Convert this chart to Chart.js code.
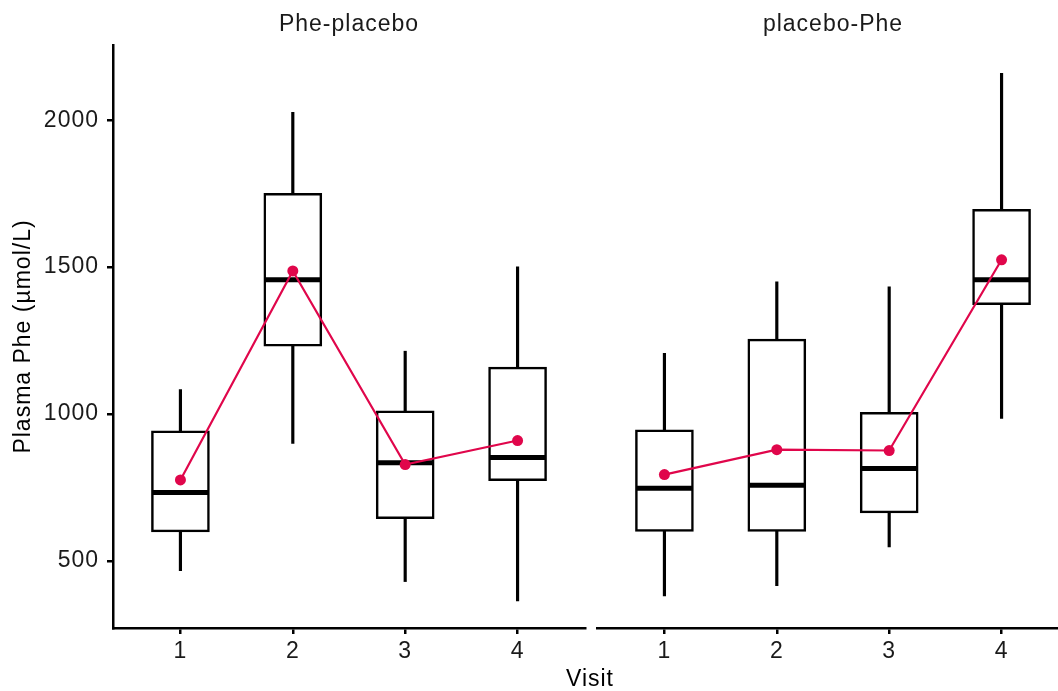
<!DOCTYPE html>
<html>
<head>
<meta charset="utf-8">
<script src="https://cdn.jsdelivr.net/npm/chart.js@4"></script>
<style>
  html, body { margin: 0; padding: 0; background: #fff; overflow: hidden; width: 1058px; height: 691px; }
  #left { position: absolute; left: 0; top: 0; width: 590px; height: 691px; }
  #right { position: absolute; left: 590px; top: 0; width: 485px; height: 691px; }
  #xlabel { position: absolute; left: 490px; width: 200px; top: 665px; text-align: center;
    font-family: "Liberation Sans", Arial, sans-serif; font-size: 23px; letter-spacing: 1px; color: #000; }
</style>
</head>
<body>
<div id="left"><canvas id="leftChart" width="590" height="691"></canvas></div>
<div id="right"><canvas id="rightChart" width="485" height="691"></canvas></div>
<div id="xlabel">Visit</div>
<script>
const visits = [1, 2, 3, 4];
const yTicks = [500, 1000, 1500, 2000];

// Phe-placebo
const p1Min = [467, 900, 430, 364];
const p1Q1 = [599, 1231, 644, 773];
const p1Median = [733, 1457, 834, 852];
const p1Q3 = [943, 1751, 1011, 1160];
const p1Max = [1083, 2027, 1214, 1501];
const p1Mean = [776, 1487, 828, 910];

// placebo-Phe
const p2Min = [381, 416, 548, 985];
const p2Q1 = [601, 601, 664, 1372];
const p2Median = [748, 758, 815, 1457];
const p2Q3 = [946, 1255, 1006, 1697];
const p2Max = [1207, 1450, 1433, 2160];
const p2Mean = [794, 879, 876, 1525];

const font = "'Liberation Sans', Arial, sans-serif";
const red = '#E0064B';

// text in the reference is a bit wider than Arial
// (canvas resize wipes ctx state, so set it again before update and draw)
const spacing = {
    id: 'spacing',
    beforeUpdate: chart => { chart.ctx.letterSpacing = '1px'; },
    beforeDraw: chart => { chart.ctx.letterSpacing = '1px'; }
};

function makePanel(canvasId, title, mins, q1s, meds, q3s, maxs, means, isLeft) {
    const ctx = document.getElementById(canvasId).getContext('2d');
    new Chart(ctx, {
        type: 'bar',
        plugins: [spacing],
        data: {
            datasets: [
                {
                    type: 'line',
                    order: 0,
                    data: visits.map((v, i) => ({x: v, y: means[i]})),
                    borderColor: red,
                    borderWidth: 2.2,
                    pointRadius: 5.5,
                    pointBackgroundColor: red,
                    pointBorderWidth: 0,
                    tension: 0
                },
                {
                    type: 'scatter',
                    order: 1,
                    data: visits.map((v, i) => ({x: v, y: meds[i]})),
                    pointStyle: 'line',
                    pointRadius: 28,
                    borderColor: '#000',
                    borderWidth: 5,
                    showLine: false
                },
                {
                    order: 2,
                    grouped: false,
                    data: visits.map((v, i) => ({x: v, y: [q1s[i], q3s[i]]})),
                    backgroundColor: '#fff',
                    borderColor: '#000',
                    borderWidth: 2.5,
                    borderSkipped: false,
                    barThickness: 58
                },
                {
                    order: 3,
                    grouped: false,
                    data: visits.map((v, i) => ({x: v, y: [mins[i], maxs[i]]})),
                    backgroundColor: '#000',
                    borderWidth: 0,
                    barThickness: 2.5
                }
            ]
        },
        options: {
            responsive: false,
            animation: false,
            layout: {autoPadding: false, padding: {left: isLeft ? 0 : 7, right: isLeft ? 5 : 6, top: 0, bottom: 0}},
            plugins: {
                legend: {display: false},
                tooltip: {enabled: false},
                title: {
                    display: true,
                    fullSize: false,
                    text: title,
                    color: '#1a1a1a',
                    font: {family: font, size: 23, weight: 'normal', lineHeight: 1.2},
                    padding: {top: 11, bottom: 6.4}
                }
            },
            scales: {
                x: {
                    type: 'linear',
                    min: 0.4,
                    max: 4.6,
                    offset: false,
                    afterBuildTicks: s => { s.ticks = visits.map(v => ({value: v})); },
                    afterFit: s => { s.height = 63; },
                    border: {display: true, color: '#000', width: 2.5},
                    grid: {display: true, drawOnChartArea: false, drawTicks: true, tickLength: 6, color: '#000', lineWidth: 2.5, offset: false},
                    ticks: {color: '#1a1a1a', padding: 4, font: {family: font, size: 23}, callback: v => String(v)}
                },
                y: {
                    display: isLeft,
                    min: 272,
                    max: 2256,
                    afterBuildTicks: s => { s.ticks = yTicks.map(v => ({value: v})); },
                    afterFit: s => { if (isLeft) s.width = 113; },
                    border: {display: true, color: '#000', width: 2.5},
                    grid: {display: true, drawOnChartArea: false, drawTicks: true, tickLength: 6, color: '#000', lineWidth: 2.5},
                    ticks: {color: '#1a1a1a', padding: 8, font: {family: font, size: 23}, callback: v => String(v)},
                    title: {
                        display: true,
                        text: 'Plasma Phe (µmol/L)',
                        color: '#000',
                        font: {family: font, size: 23},
                        padding: {top: 10, bottom: 0}
                    }
                }
            }
        }
    });
}

makePanel('leftChart', 'Phe-placebo', p1Min, p1Q1, p1Median, p1Q3, p1Max, p1Mean, true);
makePanel('rightChart', 'placebo-Phe', p2Min, p2Q1, p2Median, p2Q3, p2Max, p2Mean, false);
</script>
</body>
</html>
